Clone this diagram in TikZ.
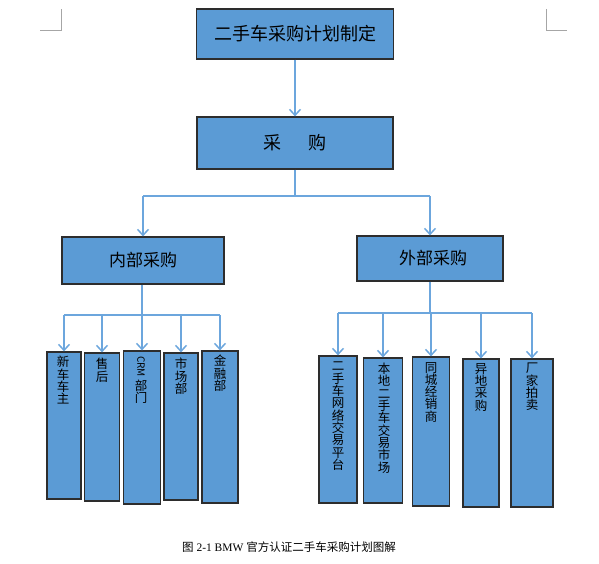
\documentclass[tikz,border=0pt]{standalone}
\usepackage{fontspec}
\setmainfont{Liberation Serif}
\newfontfamily\cjk{Noto Sans CJK SC}
\usetikzlibrary{arrows.meta}
\definecolor{boxblue}{RGB}{91,155,213}
\definecolor{linkblue}{RGB}{108,166,221}
\definecolor{edgegray}{RGB}{45,45,45}
\definecolor{markgray}{RGB}{166,166,166}
\tikzset{
  box/.style={draw=edgegray, line width=1.2pt, fill=boxblue, inner sep=0pt},
  bigtxt/.style={font=\cjk\fontsize{18}{20}\selectfont},
  midtxt/.style={font=\cjk\fontsize{17}{19}\selectfont},
  vt/.style={anchor=north, inner sep=0pt, align=center, font=\cjk\fontsize{12.5}{12.3}\selectfont},
  link/.style={draw=linkblue, line width=1.6pt},
  arr/.style={link, -{Straight Barb[length=6pt,width=11pt,line width=1.5pt]}},
  cornermark/.style={draw=markgray, line width=0.8pt}
}
\begin{document}
\begin{tikzpicture}[x=1pt,y=-1pt]
\useasboundingbox (0,0) rectangle (599,564);
% corner marks
\draw[cornermark] (40,30) -- (61,30) -- (61,9);
\draw[cornermark] (546,9) -- (546,30) -- (567,30);
% top levels
\node[box, bigtxt, minimum width=197, minimum height=50] (top) at (295,34) {二手车采购计划制定\hspace{6pt}};
\node[box, bigtxt, minimum width=196, minimum height=52] (mid) at (295,143) {采\hspace{27pt}购};
\node[box, midtxt, minimum width=162, minimum height=47] (inner) at (143,260.5) {内部采购};
\node[box, midtxt, minimum width=146, minimum height=45] (outer) at (430,258.5) {\hspace{6pt}外部采购};
% left group boxes
\node[box, minimum width=34, minimum height=147] (b1) at (64,425.5) {};
\node[box, minimum width=35, minimum height=148] (b2) at (102,427) {};
\node[box, minimum width=37, minimum height=153] (b3) at (142,427.5) {};
\node[box, minimum width=34, minimum height=147] (b4) at (181,426.5) {};
\node[box, minimum width=36, minimum height=152] (b5) at (220,427) {};
% right group boxes
\node[box, minimum width=38, minimum height=147] (c1) at (338,429.5) {};
\node[box, minimum width=39, minimum height=145] (c2) at (383,430.5) {};
\node[box, minimum width=37, minimum height=149] (c3) at (431,431.5) {};
\node[box, minimum width=36, minimum height=148] (c4) at (481,433) {};
\node[box, minimum width=42, minimum height=148] (c5) at (532,433) {};
% vertical texts
\node[vt] (t1) at (63,356) {新\\车\\车\\主};
\node[vt] (t2) at (102,358) {售\\后};
\node[vt] (t3) at (141,356) {\rotatebox{-90}{\fontsize{10}{10}\selectfont CRM}\\[2pt]部\\门};
\node[vt] (t4) at (181,358) {市\\场\\部};
\node[vt] (t5) at (220,355) {金\\融\\部};
\node[vt] (u1) at (338,362) {二\\手\\车\\网\\络\\交\\易\\平\\台};
\node[vt] (u2) at (384,363) {本\\地\\二\\手\\车\\交\\易\\市\\场};
\node[vt] (u3) at (431,362) {同\\城\\经\\销\\商};
\node[vt] (u4) at (481,363) {异\\地\\采\\购};
\node[vt] (u5) at (532,363) {厂\\家\\拍\\卖};
% connectors
\draw[arr] (top) -- (mid);
\coordinate (j0) at (295,196);
\draw[link] (mid.south) -- (j0);
\draw[link] (inner.north |- j0) -- (outer.north |- j0);
\draw[arr] (inner.north |- j0) -- (inner.north);
\draw[arr] (outer.north |- j0) -- (outer.north);
% inner fan
\coordinate (j1) at (142,315);
\draw[link] (inner.south -| j1) -- (j1);
\draw[link] (b1.north |- j1) -- (b5.north |- j1);
\foreach \b in {b1,b2,b3,b4,b5} \draw[arr] (\b.north |- j1) -- (\b.north);
% outer fan
\coordinate (j2) at (430,313);
\draw[link] (outer.south) -- (j2);
\draw[link] (c1.north |- j2) -- (c5.north |- j2);
\foreach \c in {c1,c2,c3,c4,c5} \draw[arr] (\c.north |- j2) -- (\c.north);
% caption
\node[font=\fontsize{11.5}{13}\selectfont, inner sep=0pt] (cap) at (289,547) {{\cjk 图} 2-1 BMW {\cjk 官方认证二手车采购计划图解}};
\end{tikzpicture}
\end{document}
